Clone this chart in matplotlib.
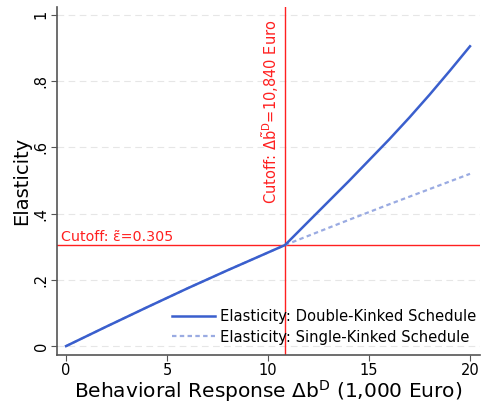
import matplotlib
matplotlib.use("Agg")
import matplotlib.pyplot as plt

plt.rcParams['mathtext.fontset'] = 'dejavusans'

# Data
x_below = [0, 2, 4, 6, 8, 10.84]
y_below = [0.0, 0.059, 0.117, 0.174, 0.229, 0.305]

x_double_above = [10.84, 12, 13, 14, 15, 16, 17, 18, 19, 20]
y_double_above = [0.305, 0.376, 0.437, 0.498, 0.561, 0.624, 0.690, 0.759, 0.831, 0.905]

x_single_above = [10.84, 12, 14, 16, 18, 20]
y_single_above = [0.305, 0.333, 0.381, 0.428, 0.474, 0.520]

cutoff_x = 10.84
cutoff_y = 0.305

xticks = [0, 5, 10, 15, 20]
yticks = [0, 0.2, 0.4, 0.6, 0.8, 1.0]
yticklabels = ["0", ".2", ".4", ".6", ".8", "1"]

x_double = x_below + x_double_above[1:]
y_double = y_below + y_double_above[1:]
x_single = x_below + x_single_above[1:]
y_single = y_below + y_single_above[1:]

fig = plt.figure(figsize=(4.83, 4.03), dpi=100)
ax = fig.add_axes([0.118, 0.119, 0.876, 0.864])

for yv in yticks:
    ax.axhline(yv, color='#e6e6e6', lw=0.8, ls=(0, (6, 4)), zorder=0)

ax.axhline(cutoff_y, color='#ff2020', lw=1.0, zorder=2)
ax.axvline(cutoff_x, color='#ff2020', lw=1.0, zorder=2)

l1, = ax.plot(x_double, y_double, color='#3a5fcd', lw=1.8, zorder=4,
              label='Elasticity: Double-Kinked Schedule')
l2, = ax.plot(x_single, y_single, color='#9aabe2', lw=1.6, ls=(0, (2, 1.5)), zorder=3,
              label='Elasticity: Single-Kinked Schedule')

ax.text(-0.25, cutoff_y + 0.004, "Cutoff: \u03b5\u0303=0.305", color='#ff2020',
        fontsize=10.3, ha='left', va='bottom')
ax.text(cutoff_x - 0.2, 0.985, r"Cutoff: $\Delta\tilde{\mathrm{b}}^{\mathrm{D}}$=10,840 Euro",
        color='#ff2020', fontsize=10.5, rotation=90, ha='right', va='top')

ax.set_xlim(-0.45, 20.5)
ax.set_ylim(-0.027, 1.024)
ax.set_xticks(xticks)
ax.set_xticklabels([str(t) for t in xticks], fontsize=10.5)
ax.set_yticks(yticks)
ax.set_yticklabels(yticklabels, fontsize=10.5, rotation=90, va='center')
ax.tick_params(direction='out', length=4, width=0.8, color='#555555', pad=2)

for s in ['top', 'right']:
    ax.spines[s].set_visible(False)
for s in ['left', 'bottom']:
    ax.spines[s].set_color('#555555')
    ax.spines[s].set_linewidth(1.2)

ax.set_xlabel(r"Behavioral Response $\Delta\mathrm{b}^{\mathrm{D}}$ (1,000 Euro)", fontsize=14.5, labelpad=0)
ax.set_ylabel("Elasticity", fontsize=14, labelpad=2)

leg = ax.legend(handles=[l1, l2], loc='lower left', bbox_to_anchor=(0.272, 0.03),
                frameon=False, fontsize=10.6, handlelength=2.9, handletextpad=0.35,
                borderpad=0, borderaxespad=0, labelspacing=0.4)

fig.savefig("out.png", dpi=100)
